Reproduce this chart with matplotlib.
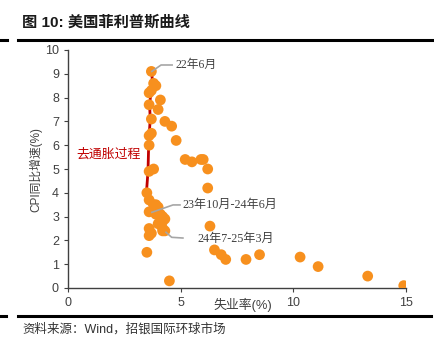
import matplotlib.pyplot as plt
from matplotlib.lines import Line2D

plt.rcParams['font.family'] = ['Liberation Sans', 'Noto Sans CJK SC']

# 失业率(%) 与 CPI同比(%)
unemp = [3.7, 3.8, 3.9, 3.7, 3.6, 4.1, 3.6, 4.0, 3.7, 4.3, 4.6, 3.7, 3.6, 4.8,
         3.6, 5.2, 5.5, 5.9, 6.0, 6.2, 3.6, 3.8, 6.2, 3.5,
         3.6, 3.8, 3.9, 4.0, 3.6, 3.9, 4.1, 4.2, 4.3, 4.2, 4.0, 4.2, 4.3, 4.2,
         3.6, 3.7, 3.6,
         6.3, 3.5, 4.5,
         6.5, 6.8, 7.0, 7.9, 8.5, 10.3, 11.1, 13.3, 14.9]
cpi = [9.1, 8.6, 8.5, 8.3, 8.2, 7.9, 7.7, 7.5, 7.1, 7.0, 6.8, 6.5, 6.4, 6.2,
       6.0, 5.4, 5.3, 5.4, 5.4, 5.0, 4.9, 5.0, 4.2, 4.0,
       3.7, 3.5, 3.5, 3.4, 3.2, 3.1, 3.1, 3.0, 2.9, 2.8, 2.7, 2.5, 2.4, 2.4,
       2.5, 2.3, 2.2,
       2.6, 1.5, 0.3,
       1.6, 1.4, 1.2, 1.2, 1.4, 1.3, 0.9, 0.5, 0.1]

# 去通胀路径
path_x = [3.72, 3.75, 3.68, 3.62, 3.65, 3.6, 3.58, 3.55, 3.48, 3.6, 3.7]
path_y = [9.1, 8.5, 8.2, 7.7, 7.1, 6.4, 6.0, 4.9, 4.0, 3.6, 3.3]

fig = plt.figure(figsize=(4.35, 3.45), dpi=100)
ax = fig.add_axes([68 / 435, 1 - 288 / 345, 338 / 435, 238 / 345])

ax.plot(path_x, path_y, color='#C00000', lw=2, zorder=2)
ax.scatter(unemp, cpi, s=60, color='#F7901E', edgecolors='none', zorder=3)

# 标注
gray = '#A6A6A6'
serif_cjk = ['Liberation Serif', 'Noto Sans CJK SC']
ax.plot([3.72, 4.13, 4.62], [9.1, 9.37, 9.37], color=gray, lw=1.2, zorder=4)
ax.text(4.75, 9.37, '22年6月', fontsize=8.5, va='center', color='#404040',
        family=serif_cjk)
ax.plot([3.72, 4.66, 4.97], [3.18, 3.49, 3.49], color=gray, lw=1.2, zorder=4)
ax.text(5.1, 3.49, '23年10月-24年6月', fontsize=8.7, va='center', color='#404040',
        family=serif_cjk)
ax.plot([4.35, 4.6, 5.1], [2.34, 2.13, 2.1], color=gray, lw=1.2, zorder=4)
ax.text(5.73, 2.06, '24年7-25年3月', fontsize=8.7, va='center', color='#404040',
        family=serif_cjk)
ax.text(0.36, 5.59, '去通胀过程', fontsize=9.3, va='center', color='#C00000')

ax.set_xlim(0, 15)
ax.set_ylim(0, 10)
ax.set_xticks([0, 5, 10, 15])
ax.set_yticks(range(0, 11))
for s in ['top', 'right']:
    ax.spines[s].set_visible(False)
for s in ['left', 'bottom']:
    ax.spines[s].set_color('#404040')
    ax.spines[s].set_linewidth(1)
ax.tick_params(labelsize=9, colors='#404040', length=3)
ax.set_ylabel('CPI同比增速(%)', fontsize=8.5, color='#404040', labelpad=2)
fig.text(243 / 435, 1 - 305 / 345, '失业率(%)', fontsize=9.3, color='#404040',
         ha='center', va='center')

# 标题和来源
fig.text(22 / 435, 1 - 22 / 345, '图 10: 美国菲利普斯曲线', fontsize=11,
         fontweight='bold', va='center', color='#1a1a1a')
fig.add_artist(Line2D([18 / 435, 1], [1 - 40 / 345] * 2, color='black', lw=2.2))
fig.add_artist(Line2D([0, 7 / 435], [1 - 40 / 345] * 2, color='black', lw=2.2))
fig.add_artist(Line2D([18 / 435, 0.99], [1 - 316 / 345] * 2, color='black', lw=2.2))
fig.add_artist(Line2D([0, 6 / 435], [1 - 316 / 345] * 2, color='black', lw=2.2))
fig.text(22 / 435, 1 - 329 / 345, '资料来源：Wind，招银国际环球市场', fontsize=9,
         va='center', color='#333333')

fig.savefig('out.png', dpi=100)
